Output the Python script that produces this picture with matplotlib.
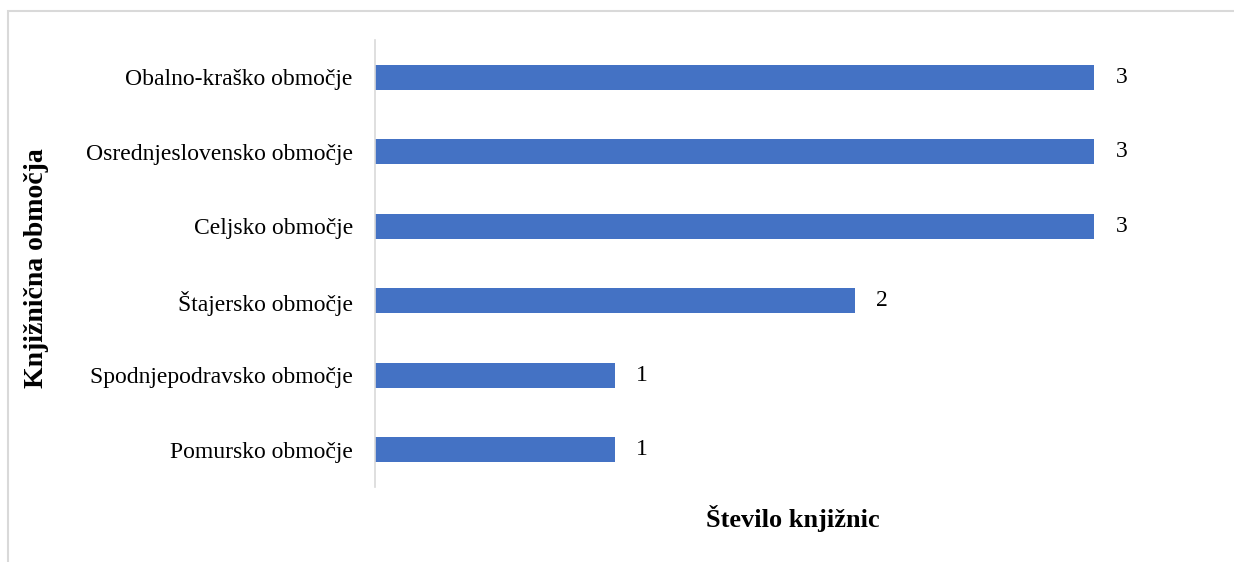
import matplotlib.pyplot as plt
from matplotlib.patches import Rectangle

# podatki
obmocja = ["Pomursko območje", "Spodnjepodravsko območje", "Štajersko območje",
           "Celjsko območje", "Osrednjeslovensko območje", "Obalno-kraško območje"]
stevilo = [1, 1, 2, 3, 3, 3]

plt.rcParams['font.family'] = ['Liberation Serif', 'DejaVu Serif']

fig = plt.figure(figsize=(12.34, 5.62), dpi=100)
ax = fig.add_axes([0.3039, 0.1335, 0.680, 0.7954])

y = range(len(obmocja))
ax.barh(y, stevilo, height=0.33, color='#4472C4')
for yi, v in zip(y, stevilo):
    ax.text(v + 0.09, yi, str(v), va='center', ha='left', fontsize=17)

ax.set_xlim(0, 3.5)
ax.set_ylim(-0.5, 5.5)
ax.set_yticks(list(y))
ax.set_yticklabels(obmocja, fontsize=17)
ax.tick_params(axis='y', length=0, pad=16)
ax.set_xticks([])
for s in ['top', 'right', 'bottom']:
    ax.spines[s].set_visible(False)
ax.spines['left'].set_color('#d9d9d9')
ax.spines['left'].set_linewidth(1.2)

fig.text(793 / 1234, 1 - 518 / 562, "Število knjižnic", ha='center', va='center',
         fontsize=19, fontweight='bold')
fig.text(37 / 1234, 1 - 268 / 562, "Knjižnična območja", ha='center', va='center',
         rotation=90, fontsize=20, fontweight='bold')

# okvir
fig.patches.append(Rectangle((8 / 1234, -0.1), 1.2, 1 - 11 / 562 + 0.1,
                             transform=fig.transFigure, fill=False,
                             edgecolor='#d9d9d9', linewidth=1.5))

fig.savefig('out.png', dpi=100)
